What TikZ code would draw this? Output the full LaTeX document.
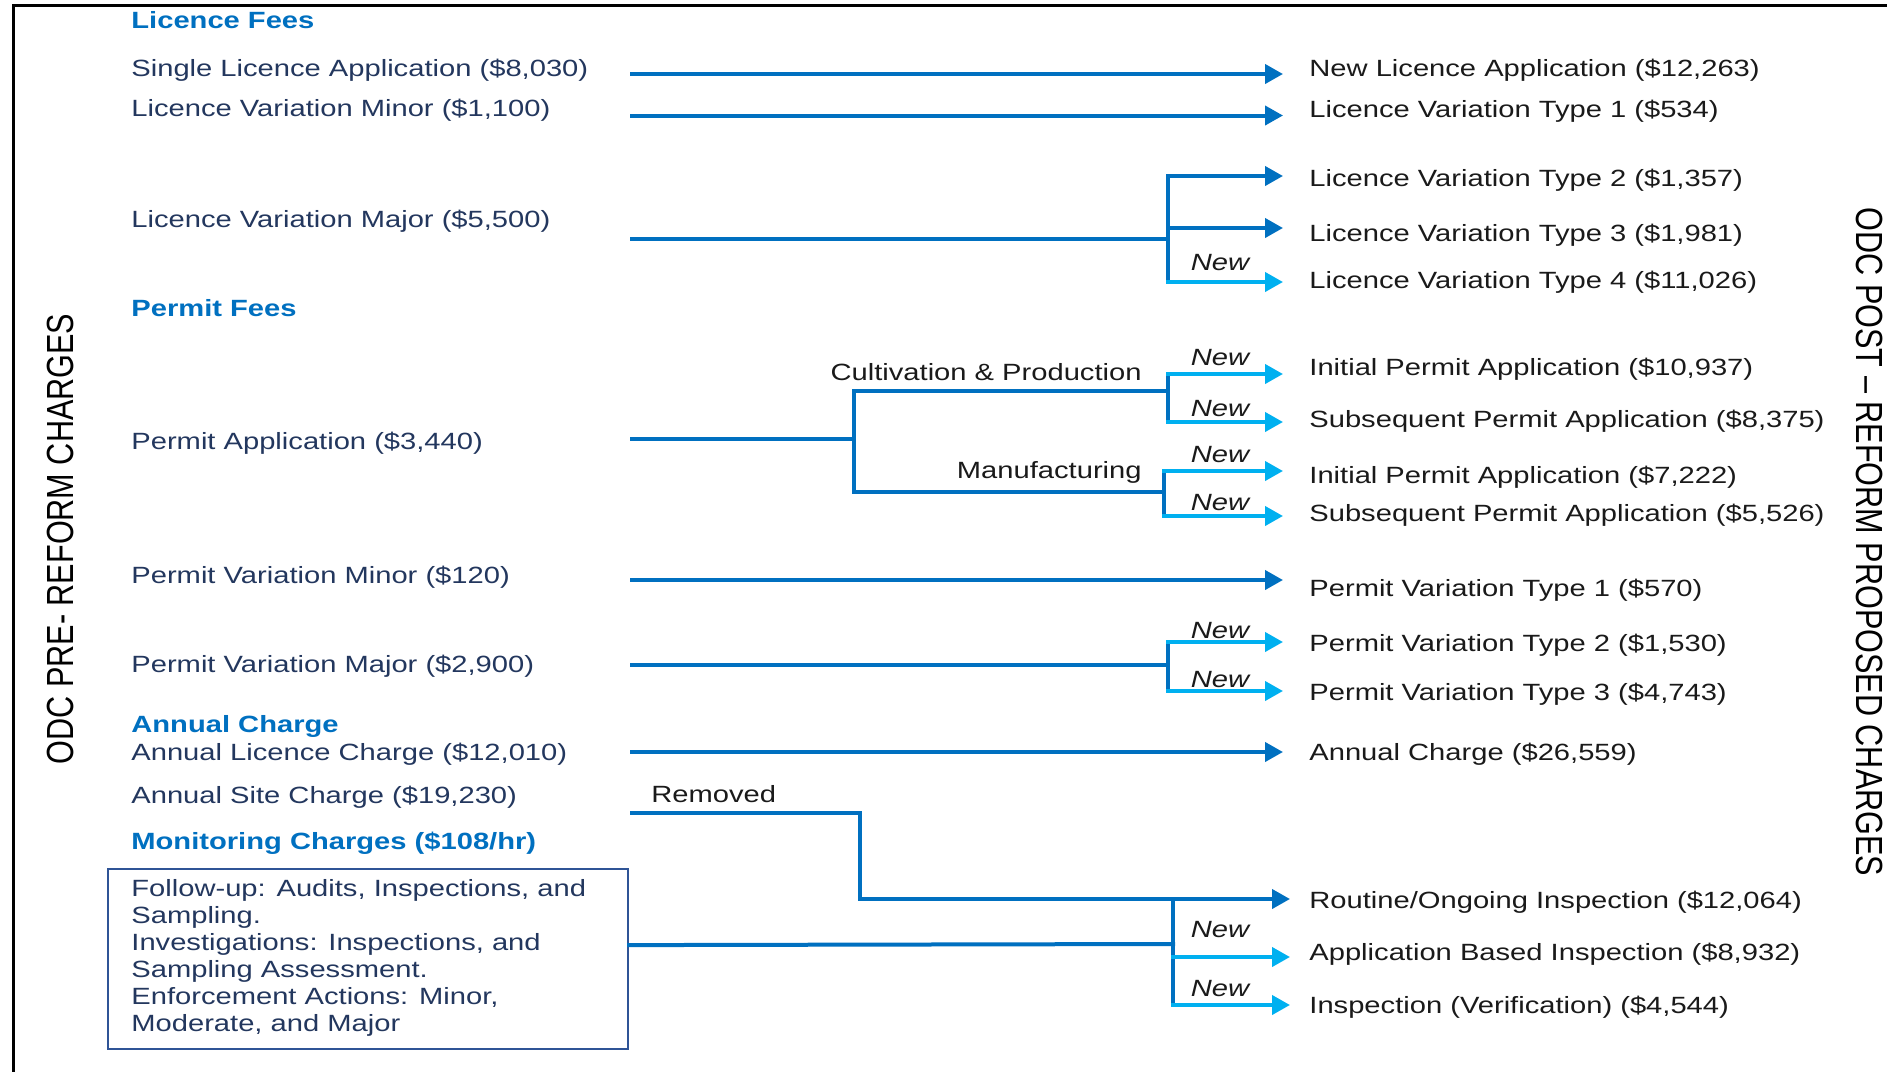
\documentclass[tikz,border=0pt]{standalone}
\usepackage{fontspec}
\setmainfont{Liberation Sans}
\newfontfamily\wf[FakeStretch=1.24]{Liberation Sans}
\newfontfamily\rf[FakeStretch=0.81]{Liberation Sans}
\usetikzlibrary{arrows.meta}
\definecolor{dblue}{HTML}{0070C0}
\definecolor{lblue}{HTML}{00B0F0}
\definecolor{navy}{HTML}{23375E}
\definecolor{boxblue}{HTML}{2F5496}
\definecolor{txt}{HTML}{1A1A1A}
\newcommand\fsz{\fontsize{11.75pt}{14pt}\selectfont}
\begin{document}
\begin{tikzpicture}[x=0.5pt,y=-0.5pt,
  base/.style={inner sep=0pt, text height=8.4pt, text depth=0pt},
  lt/.style={base, anchor=west, text=navy, font=\wf\fsz},
  hd/.style={base, anchor=west, text=dblue, font=\wf\bfseries\fsz},
  rt/.style={base, anchor=west, text=txt, font=\wf\fsz},
  nw/.style={base, text=txt, font=\wf\itshape\fsz},
  lbl/.style={base, text=txt, font=\wf\fsz},
  side/.style={inner sep=0pt, text=black, font=\rf\fontsize{18.9pt}{22pt}\selectfont},
  conn/.style={draw=dblue, line width=2pt, line cap=rect},
  arr/.style={conn, -{Triangle[length=9pt,width=9.5pt]}, shorten >=13pt},
  narr/.style={arr, draw=lblue},
]
\fill[white] (0,0) rectangle (1887,1072);
\useasboundingbox (0,0) rectangle (1887,1072);
% frame
\draw[line width=1.5pt] (13,1072) -- (13,5.5) -- (1887,5.5);

% side labels
\node[side, rotate=90] (lside) at (60,539) {ODC PRE- REFORM CHARGES};
\node[side, rotate=-90] (rside) at (1869,542) {ODC POST – REFORM PROPOSED CHARGES};

% left column
\node[hd] (hlf) at (131,20.5) {Licence Fees};
\node[lt] (l1) at (131,68) {Single Licence Application (\$8,030)};
\node[lt] (l2) at (131,108.5) {Licence Variation Minor (\$1,100)};
\node[lt] (l3) at (131,219) {Licence Variation Major (\$5,500)};
\node[hd] (hpf) at (131,308) {Permit Fees};
\node[lt] (l4) at (131,441.5) {Permit Application (\$3,440)};
\node[lt] (l5) at (131,575) {Permit Variation Minor (\$120)};
\node[lt] (l6) at (131,664) {Permit Variation Major (\$2,900)};
\node[hd] (hac) at (131,724) {Annual Charge};
\node[lt] (l7) at (131,752) {Annual Licence Charge (\$12,010)};
\node[lt] (l8) at (131,795.5) {Annual Site Charge (\$19,230)};
\node[hd] (hmc) at (131,841.5) {Monitoring Charges (\$108/hr)};
\node[draw=boxblue, line width=1.1pt, anchor=north west, minimum width=260pt, minimum height=90pt, inner sep=0pt] (mbox) at (107,868) {};
\node[anchor=north west, inner sep=0pt, align=left, text=navy, font=\wf\fontsize{11.75pt}{13.5pt}\selectfont] (mtext) at (131,879)
  {Follow-up: Audits, Inspections, and\\Sampling.\\Investigations: Inspections, and\\Sampling Assessment.\\Enforcement Actions: Minor,\\Moderate, and Major};

% right column
\node[rt] (r1) at (1309,68.3) {New Licence Application (\$12,263)};
\node[rt] (r2) at (1309,109) {Licence Variation Type 1 (\$534)};
\node[rt] (r3) at (1309,178.3) {Licence Variation Type 2 (\$1,357)};
\node[rt] (r4) at (1309,233.3) {Licence Variation Type 3 (\$1,981)};
\node[rt] (r5) at (1309,280) {Licence Variation Type 4 (\$11,026)};
\node[rt] (r6) at (1309,366.7) {Initial Permit Application (\$10,937)};
\node[rt] (r7) at (1309,419) {Subsequent Permit Application (\$8,375)};
\node[rt] (r8) at (1309,475) {Initial Permit Application (\$7,222)};
\node[rt] (r9) at (1309,513.3) {Subsequent Permit Application (\$5,526)};
\node[rt] (r10) at (1309,587.7) {Permit Variation Type 1 (\$570)};
\node[rt] (r11) at (1309,643.3) {Permit Variation Type 2 (\$1,530)};
\node[rt] (r12) at (1309,691.7) {Permit Variation Type 3 (\$4,743)};
\node[rt] (r13) at (1309,751.7) {Annual Charge (\$26,559)};
\node[rt] (r14) at (1309,900) {Routine/Ongoing Inspection (\$12,064)};
\node[rt] (r15) at (1309,951.7) {Application Based Inspection (\$8,932)};
\node[rt] (r16) at (1309,1005) {Inspection (Verification) (\$4,544)};

% labels
\node[lbl, anchor=east] (cul) at (1142,372) {Cultivation \& Production};
\node[lbl, anchor=east] (man) at (1142,470) {Manufacturing};
\node[lbl, anchor=west] (rem) at (651,794) {Removed};
\node[nw] (n1) at (1220,262) {New};
\node[nw] (n2) at (1220,356.7) {New};
\node[nw] (n3) at (1220,408.3) {New};
\node[nw] (n4) at (1220,454.3) {New};
\node[nw] (n5) at (1220,502.3) {New};
\node[nw] (n6) at (1220,630) {New};
\node[nw] (n7) at (1220,679.3) {New};
\node[nw] (n8) at (1220,929) {New};
\node[nw] (n9) at (1220,988.3) {New};

% connectors: licence
\coordinate (s1) at (632,74);
\draw[arr] (s1) -- (s1 -| r1.west);
\coordinate (s2) at (632,115.5);
\draw[arr] (s2) -- (s2 -| r2.west);
\coordinate (s3) at (632,239);
\coordinate (j3) at (1168,239);
\coordinate (j3t) at (1168,176);
\coordinate (j3m) at (1168,228);
\coordinate (j3b) at (1168,282);
\draw[conn] (s3) -- (j3);
\draw[conn] (j3t) -- (j3b);
\draw[arr] (j3t) -- (j3t -| r3.west);
\draw[arr] (j3m) -- (j3m -| r4.west);
\draw[narr] (j3b) -- (j3b -| r5.west);

% permit application
\coordinate (s4) at (632,439);
\coordinate (p1) at (854,439);
\coordinate (pu) at (854,391);
\coordinate (pl) at (854,492);
\coordinate (cu) at (1168,391);
\coordinate (cl) at (1164,492);
\draw[conn] (s4) -- (p1);
\draw[conn] (cu) -- (pu) -- (pl) -- (cl);
\coordinate (cu1) at (1168,374);
\coordinate (cu2) at (1168,422);
\coordinate (cl1) at (1164,471);
\coordinate (cl2) at (1164,516);
\draw[conn] (cu1) -- (cu2);
\draw[conn] (cl1) -- (cl2);
\draw[narr] (cu1) -- (cu1 -| r6.west);
\draw[narr] (cu2) -- (cu2 -| r7.west);
\draw[narr] (cl1) -- (cl1 -| r8.west);
\draw[narr] (cl2) -- (cl2 -| r9.west);

% permit variation
\coordinate (s5) at (632,580);
\draw[arr] (s5) -- (s5 -| r10.west);
\coordinate (s6) at (632,665);
\coordinate (v6) at (1168,665);
\coordinate (v6t) at (1168,642);
\coordinate (v6b) at (1168,691);
\draw[conn] (s6) -- (v6);
\draw[conn] (v6t) -- (v6b);
\draw[narr] (v6t) -- (v6t -| r11.west);
\draw[narr] (v6b) -- (v6b -| r12.west);

% annual
\coordinate (s7) at (632,752);
\draw[arr] (s7) -- (s7 -| r13.west);
\coordinate (s8) at (632,813);
\coordinate (k1) at (860,813);
\coordinate (k2) at (860,899);
\draw[arr, shorten >=9.5pt] (s8) -- (k1) -- (k2) -- (k2 -| r14.west);

% monitoring
\coordinate (mj) at (1173,944);
\coordinate (mt) at (1173,899);
\coordinate (mm) at (1173,957);
\coordinate (mb) at (1173,1005);
\draw[conn] ([yshift=7pt]mbox.east) -- (mj);
\draw[conn] (mt) -- (mb);
\draw[narr, shorten >=9.5pt] (mm) -- (mm -| r15.west);
\draw[narr, shorten >=9.5pt] (mb) -- (mb -| r16.west);
\end{tikzpicture}
\end{document}
